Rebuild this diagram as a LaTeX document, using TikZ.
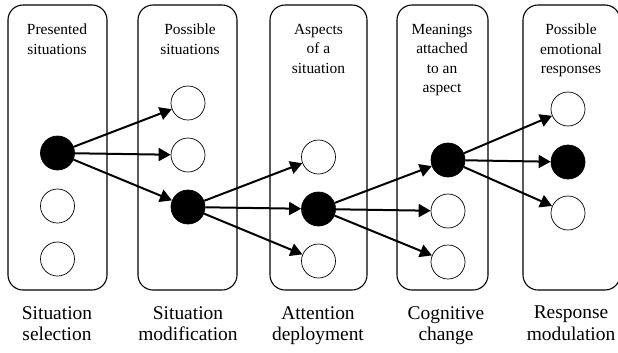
\documentclass[tikz,border=0pt]{standalone}
\usepackage{fontspec}
\setmainfont{Liberation Serif}
\newfontfamily\labelfont{Liberation Serif}
\usetikzlibrary{arrows.meta}

\begin{document}
\begin{tikzpicture}[x=1bp, y=-1bp,
    stagebox/.style={draw, line width=1.1bp, rounded corners=15bp, inner sep=0pt},
    openstate/.style={circle, draw, line width=0.7bp, minimum size=34bp, inner sep=0pt},
    fullstate/.style={openstate, fill=black},
    header/.style={anchor=north, align=center, inner sep=0pt, font=\labelfont\fontsize{15.5}{19.5}\selectfont},
    stagename/.style={anchor=north, align=center, inner sep=0pt, font=\labelfont\fontsize{19.5}{22}\selectfont},
    flow/.style={-{Triangle[length=12bp, width=13bp]}, line width=2bp}]
    \clip (0,0) rectangle (618,352);

    % Boxes
    \node [stagebox, minimum width=99bp, minimum height=285bp] (selbox) at (57.5,147.5) {};
    \node [stagebox, minimum width=99bp, minimum height=285bp] (modbox) at (187.5,147.5) {};
    \node [stagebox, minimum width=97bp, minimum height=285bp] (attbox) at (318.5,147.5) {};
    \node [stagebox, minimum width=91bp, minimum height=285bp] (cogbox) at (442.5,147.5) {};
    \node [stagebox, minimum width=97bp, minimum height=285bp] (respbox) at (571.5,147.5) {};

    % Headers
    \node [header] (selhead) at (57,24) {Presented\\situations};
    \node [header] (modhead) at (190,24) {Possible\\situations};
    \node [header] (atthead) at (318.5,24) {Aspects\\of a\\situation};
    \node [header] (coghead) at (442,24) {Meanings\\attached\\to an\\aspect};
    \node [header] (resphead) at (571,24) {Possible\\emotional\\responses};

    % Nodes
    \node [fullstate] (sel1) at (57.5,153) {};
    \node [openstate] (sel2) at (57.5,206) {};
    \node [openstate] (sel3) at (57.5,259) {};

    \node [openstate] (mod1) at (188,103) {};
    \node [openstate] (mod2) at (188,155) {};
    \node [fullstate] (mod3) at (188,207) {};

    \node [openstate] (att1) at (318.5,157) {};
    \node [fullstate] (att2) at (318.5,209) {};
    \node [openstate] (att3) at (318.5,261) {};

    \node [fullstate] (cog1) at (448,160) {};
    \node [openstate] (cog2) at (448,211) {};
    \node [openstate] (cog3) at (448,262) {};

    \node [openstate] (resp1) at (568,109) {};
    \node [fullstate] (resp2) at (568,162) {};
    \node [openstate] (resp3) at (568,213) {};

    % Path
    \foreach \t in {mod1,mod2,mod3} \draw [flow] (sel1) -- (\t);
    \foreach \t in {att1,att2,att3} \draw [flow] (mod3) -- (\t);
    \foreach \t in {cog1,cog2,cog3} \draw [flow] (att2) -- (\t);
    \foreach \t in {resp1,resp2,resp3} \draw [flow] (cog1) -- (\t);

    % Stage names
    \node [stagename] (selname) at (57,306) {Situation\\selection};
    \node [stagename] (modname) at (188,306) {Situation\\modification};
    \node [stagename] (attname) at (318,306) {Attention\\deployment};
    \node [stagename] (cogname) at (446,306) {Cognitive\\change};
    \node [stagename] (respname) at (571,306) {Response\\modulation};
\end{tikzpicture}
\end{document}
